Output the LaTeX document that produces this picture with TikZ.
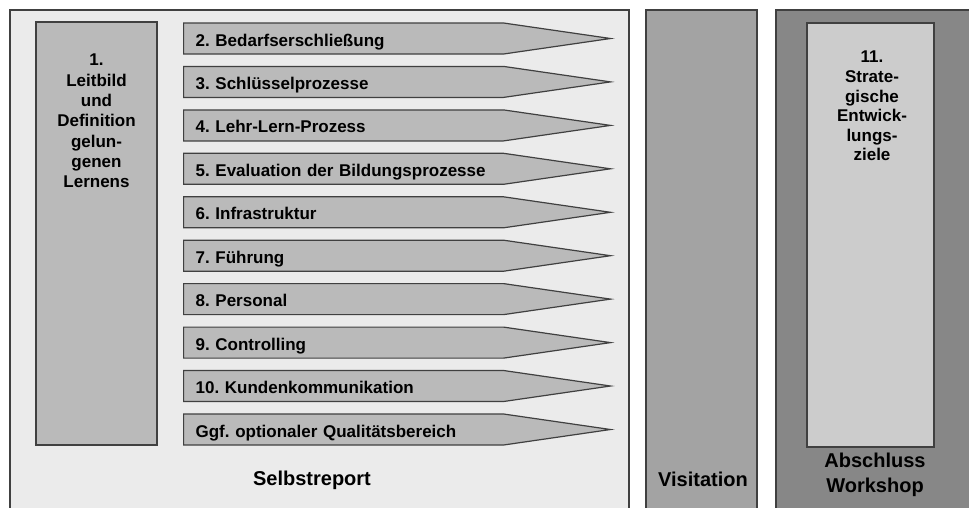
\documentclass[tikz,border=0pt]{standalone}
\usepackage{fontspec}
\setmainfont{Liberation Sans}
\usetikzlibrary{shapes.symbols}

\definecolor{grundhell}{gray}{0.92}
\definecolor{kastengrau}{gray}{0.73}
\definecolor{zielgrau}{gray}{0.80}
\definecolor{visitgrau}{gray}{0.64}
\definecolor{abschlgrau}{gray}{0.53}
\definecolor{randgrau}{gray}{0.25}

\newcommand{\schrift}{\bfseries\fontsize{17}{20.3}\selectfont\frenchspacing}
\newcommand{\titelschrift}{\bfseries\fontsize{20}{25}\selectfont}

\begin{document}
\begin{tikzpicture}[
			x=1pt, y=-1pt,
			rahmen/.style={line width=1.6pt, draw=randgrau},
			bericht/.style={rahmen, fill=grundhell},
			visit/.style={rahmen, fill=visitgrau},
			abschl/.style={rahmen, fill=abschlgrau},
			kasten/.style={rahmen, fill=kastengrau},
			ziel/.style={rahmen, fill=zielgrau},
			pfeil/.style={signal, signal to=east, draw=randgrau,
				fill=kastengrau, line width=1.2pt,
				signal pointer angle=16.5, minimum height=31pt,
				text width=296pt, inner xsep=12pt, inner ysep=0pt,
				text height=15pt, text depth=0pt,
				align=left, anchor=west, font=\schrift},
			titel/.style={font=\schrift, align=center, inner sep=0pt},
			spaltentitel/.style={font=\titelschrift, align=center, inner sep=0pt}]
			
			\useasboundingbox (0,0) rectangle (969,507);
			
			\def\xP{183}                       %% linker Rand der Pfeile
			
			%% --- drei Spalten ---
			\draw[bericht] (10,10) rectangle (629,512);
			\draw[visit]   (646,10) rectangle (757,512);
			\draw[abschl]  (776,10) rectangle (975,512);
			
			%% --- Kasten 1 und Kasten 11 ---
			\draw[kasten] (36,22) rectangle (157,445);
			\draw[ziel]   (807,23) rectangle (934,447);
			
			\node[titel, anchor=north] (leitbild) at (96.5,54)
				{1.\\Leitbild\\und\\Definition\\gelun-\\genen\\Lernens};
			\node[titel, anchor=north, font=\bfseries\fontsize{17}{19.6}\selectfont]
				(strategie) at (872,51)
				{11.\\Strate-\\gische\\Entwick-\\lungs-\\ziele};
			
			%% --- Qualitaetsbereiche als Pfeile ---
			\node[pfeil] (p2)  at (\xP,38.5)  {2. Bedarfserschließung};
			\node[pfeil] (p3)  at (\xP,81.9)  {3. Schlüsselprozesse};
			\node[pfeil] (p4)  at (\xP,125.4) {4. Lehr-Lern-Prozess};
			\node[pfeil] (p5)  at (\xP,168.8) {5. Evaluation der Bildungsprozesse};
			\node[pfeil] (p6)  at (\xP,212.3) {6. Infrastruktur};
			\node[pfeil] (p7)  at (\xP,255.7) {7. Führung};
			\node[pfeil] (p8)  at (\xP,299.1) {8. Personal};
			\node[pfeil] (p9)  at (\xP,342.6) {9. Controlling};
			\node[pfeil] (p10) at (\xP,386.0) {10. Kundenkommunikation};
			\node[pfeil] (pg)  at (\xP,429.5) {Ggf. optionaler Qualitätsbereich};
			
			%% --- Spaltentitel ---
			\node[spaltentitel] (selbst)  at (312,480) {Selbstreport};
			\node[spaltentitel] (visitat) at (703,479) {Visitation};
			\node[spaltentitel] (workshop) at (875,475) {Abschluss\\Workshop};
			
		\end{tikzpicture}
\end{document}
